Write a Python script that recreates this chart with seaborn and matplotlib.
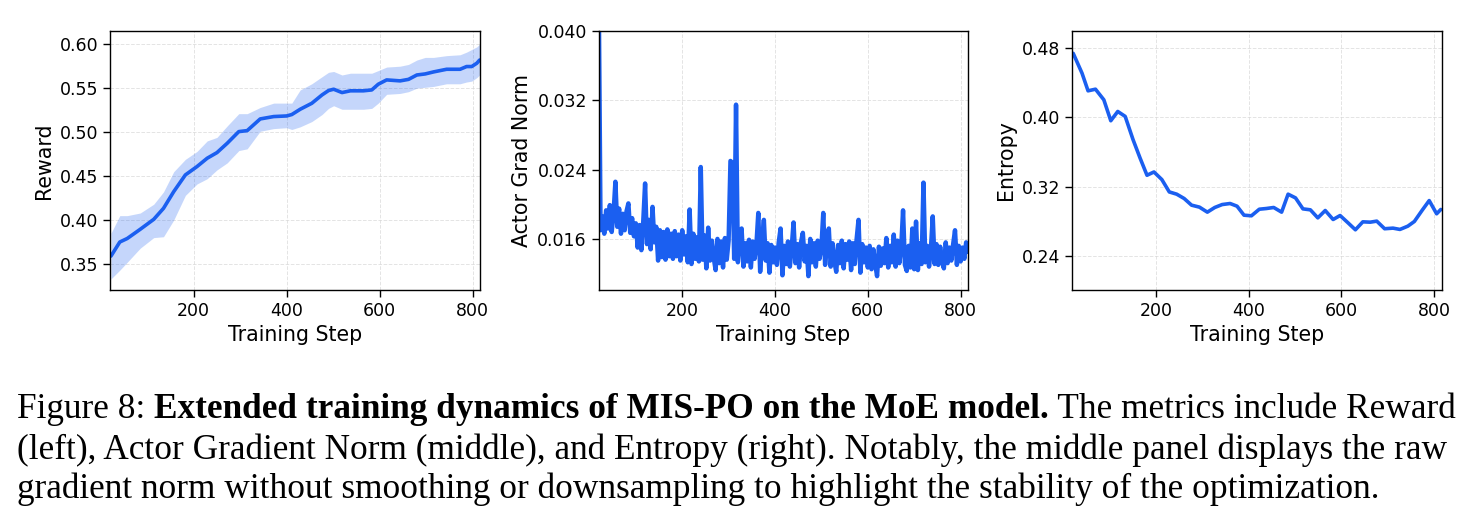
import numpy as np
import pandas as pd
import matplotlib
matplotlib.use("Agg")
import matplotlib.pyplot as plt
import seaborn as sns

# --- Reward (left): smoothed mean with band ---
reward_steps = [22, 41, 57, 85, 114, 135, 157, 182, 207, 229, 250, 272, 297, 315,
                343, 372, 400, 411, 429, 454, 476, 490, 501, 519, 537, 565, 583,
                597, 615, 644, 662, 680, 698, 716, 744, 773, 787, 798, 809, 815]
reward_mean = [0.359, 0.375, 0.379, 0.3895, 0.4008, 0.4133, 0.4323, 0.4513, 0.4608,
               0.4703, 0.4767, 0.4873, 0.5006, 0.5017, 0.5150, 0.5177, 0.5184, 0.520,
               0.526, 0.5328, 0.5423, 0.5473, 0.5488, 0.545, 0.547, 0.547, 0.548,
               0.5545, 0.5594, 0.5583, 0.560, 0.565, 0.5662, 0.5685, 0.5715, 0.5715,
               0.5746, 0.5746, 0.5784, 0.582]
reward_upper = [0.385, 0.405, 0.405, 0.408, 0.418, 0.432, 0.455, 0.469, 0.478, 0.490,
                0.494, 0.507, 0.521, 0.521, 0.528, 0.533, 0.533, 0.533, 0.548, 0.555,
                0.563, 0.568, 0.569, 0.565, 0.567, 0.567, 0.567, 0.570, 0.574, 0.575,
                0.577, 0.582, 0.585, 0.585, 0.587, 0.588, 0.591, 0.594, 0.597, 0.600]
reward_lower = [0.333, 0.343, 0.352, 0.368, 0.380, 0.381, 0.400, 0.428, 0.441, 0.447,
                0.457, 0.465, 0.479, 0.481, 0.501, 0.504, 0.505, 0.503, 0.506, 0.512,
                0.520, 0.527, 0.530, 0.526, 0.526, 0.526, 0.527, 0.533, 0.543, 0.544,
                0.546, 0.550, 0.551, 0.552, 0.555, 0.555, 0.557, 0.558, 0.562, 0.565]

# --- Actor grad norm (middle): raw values, one every 4 steps from step 20 ---
grad_steps = list(range(20, 820, 4))
grad_norm = [
    0.0450, 0.0170, 0.0186, 0.0166, 0.0193, 0.0172, 0.0199, 0.0168, 0.0190, 0.0226,
    0.0174, 0.0195, 0.0166, 0.0189, 0.0170, 0.0192, 0.0201, 0.0167, 0.0184, 0.0163,
    0.0178, 0.0150, 0.0176, 0.0147, 0.0180, 0.0224, 0.0154, 0.0182, 0.0148, 0.0197,
    0.0156, 0.0174, 0.0135, 0.0170, 0.0139, 0.0168, 0.0136, 0.0171, 0.0140, 0.0166,
    0.0137, 0.0169, 0.0140, 0.0165, 0.0135, 0.0170, 0.0142, 0.0163, 0.0133, 0.0194,
    0.0131, 0.0166, 0.0137, 0.0162, 0.0134, 0.0243, 0.0136, 0.0164, 0.0126, 0.0173,
    0.0135, 0.0158, 0.0138, 0.0124, 0.0160, 0.0132, 0.0157, 0.0127, 0.0161, 0.0136,
    0.0158, 0.0250, 0.0248, 0.0137, 0.0315, 0.0133, 0.0160, 0.0172, 0.0128, 0.0155,
    0.0134, 0.0159, 0.0127, 0.0157, 0.0137, 0.0154, 0.0190, 0.0122, 0.0156, 0.0182,
    0.0135, 0.0155, 0.0121, 0.0153, 0.0133, 0.0150, 0.0130, 0.0156, 0.0172, 0.0118,
    0.0152, 0.0131, 0.0157, 0.0128, 0.0150, 0.0179, 0.0132, 0.0154, 0.0127, 0.0156,
    0.0167, 0.0134, 0.0152, 0.0117, 0.0160, 0.0133, 0.0155, 0.0128, 0.0158, 0.0137,
    0.0150, 0.0190, 0.0130, 0.0156, 0.0172, 0.0128, 0.0155, 0.0134, 0.0122, 0.0153,
    0.0132, 0.0158, 0.0126, 0.0154, 0.0136, 0.0157, 0.0124, 0.0155, 0.0131, 0.0160,
    0.0182, 0.0121, 0.0154, 0.0133, 0.0150, 0.0127, 0.0152, 0.0125, 0.0148, 0.0131,
    0.0117, 0.0151, 0.0129, 0.0149, 0.0132, 0.0161, 0.0127, 0.0152, 0.0133, 0.0165,
    0.0128, 0.0158, 0.0132, 0.0150, 0.0193, 0.0130, 0.0123, 0.0152, 0.0127, 0.0172,
    0.0125, 0.0180, 0.0124, 0.0155, 0.0131, 0.0225, 0.0133, 0.0152, 0.0128, 0.0148,
    0.0186, 0.0131, 0.0154, 0.0130, 0.0151, 0.0134, 0.0126, 0.0156, 0.0132, 0.0150,
    0.0135, 0.0154, 0.0170, 0.0130, 0.0152, 0.0134, 0.0150, 0.0137, 0.0156, 0.0145,
]

# --- Entropy (right) ---
entropy_steps = [22, 41, 54, 70, 88, 103, 118, 134, 151, 166, 181, 196, 213, 229,
                 245, 261, 277, 294, 311, 327, 343, 360, 375, 390, 406, 423, 438,
                 454, 471, 485, 501, 517, 533, 549, 565, 582, 597, 614, 630, 646,
                 662, 676, 693, 711, 726, 743, 757, 774, 789, 805, 814]
entropy = [0.4742, 0.4512, 0.4308, 0.4327, 0.4204, 0.3962, 0.4069, 0.4012, 0.3742,
           0.3531, 0.3331, 0.3369, 0.3281, 0.3138, 0.3112, 0.3062, 0.2985, 0.2962,
           0.2904, 0.2958, 0.2992, 0.3004, 0.2973, 0.2869, 0.2862, 0.2938, 0.2946,
           0.2958, 0.2904, 0.3112, 0.3069, 0.2942, 0.2931, 0.2838, 0.2923, 0.2819,
           0.2865, 0.2781, 0.2700, 0.2792, 0.2788, 0.2800, 0.2712, 0.2719, 0.2704,
           0.2742, 0.2796, 0.2927, 0.3038, 0.2885, 0.2935]

caption_lines = [
    [("Figure 8: ", "normal"),
     ("Extended training dynamics of MIS-PO on the MoE model.", "bold"),
     (" The metrics include Reward", "normal")],
    [("(left), Actor Gradient Norm (middle), and Entropy (right). Notably, the middle panel displays the raw", "normal")],
    [("gradient norm without smoothing or downsampling to highlight the stability of the optimization.", "normal")],
]

LINE_COLOR = "#1b5ff0"

sns.set_style("white")
plt.rcParams["font.family"] = ["DejaVu Sans"]
plt.rcParams.update({"text.color": "black", "axes.labelcolor": "black",
                     "xtick.color": "black", "ytick.color": "black"})

fig = plt.figure(figsize=(14.79, 5.25), dpi=100)
ax1 = fig.add_axes([0.0744, 0.4476, 0.2502, 0.4933])
ax2 = fig.add_axes([0.4048, 0.4476, 0.2497, 0.4933])
ax3 = fig.add_axes([0.7250, 0.4476, 0.2498, 0.4933])

# left panel
ax1.fill_between(reward_steps, reward_lower, reward_upper, color=LINE_COLOR,
                 alpha=0.25, linewidth=0)
sns.lineplot(x=reward_steps, y=reward_mean, ax=ax1, color=LINE_COLOR, linewidth=2.6)
ax1.set_ylim(0.3204, 0.615)
ax1.set_yticks([0.35, 0.40, 0.45, 0.50, 0.55, 0.60])
ax1.set_ylabel("Reward")

# middle panel
sns.lineplot(x=grad_steps, y=grad_norm, ax=ax2, color=LINE_COLOR, linewidth=3.2)
ax2.set_ylim(0.0101, 0.040)
ax2.set_yticks([0.016, 0.024, 0.032, 0.040])
ax2.set_ylabel("Actor Grad Norm")

# right panel
sns.lineplot(x=entropy_steps, y=entropy, ax=ax3, color=LINE_COLOR, linewidth=2.6)
ax3.set_ylim(0.2003, 0.50)
ax3.set_yticks([0.24, 0.32, 0.40, 0.48])
ax3.set_ylabel("Entropy")

for ax in (ax1, ax2, ax3):
    ax.set_xlim(20, 816)
    ax.set_xticks([200, 400, 600, 800])
    ax.set_xlabel("Training Step", fontsize=14.8)
    ax.yaxis.label.set_size(14.8)
    ax.tick_params(axis="both", labelsize=12.5, length=5, width=1, direction="out",
                   bottom=True, left=True, colors="black")
    ax.grid(True, linestyle="--", color="#d8d8d8", linewidth=0.7, alpha=0.7)
    for sp in ax.spines.values():
        sp.set_color("black")
        sp.set_linewidth(1.0)

# caption, laid out piece by piece
renderer = fig.canvas.get_renderer()
cap_size = 25.4
x0 = 17 / 1479
baselines = [418, 459, 498]
for line, base in zip(caption_lines, baselines):
    x = x0
    yb = 1 - base / 525
    for text, weight in line:
        t = fig.text(x, yb, text, fontsize=cap_size, fontweight=weight, color="black",
                     family="Liberation Serif", va="baseline", ha="left")
        bb = t.get_window_extent(renderer=renderer)
        x += bb.width / fig.bbox.width

fig.savefig("out.png", dpi=100)
